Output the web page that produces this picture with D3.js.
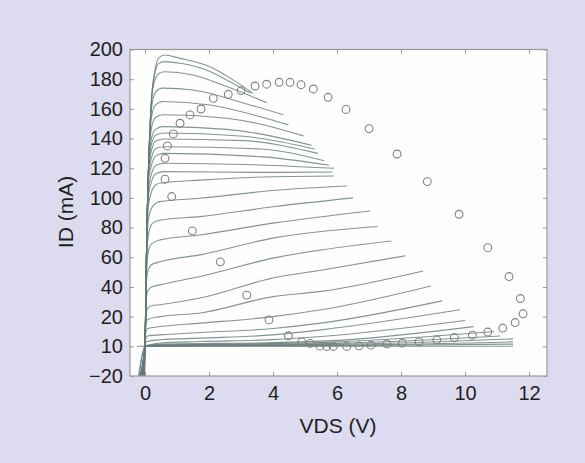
<!DOCTYPE html>
<html>
<head>
<meta charset="utf-8">
<script src="https://cdn.jsdelivr.net/npm/d3@7"></script>
<style>
  html, body { margin: 0; padding: 0; background: #dcdbef; }
  svg { display: block; }
  .tick text { font-family: "Liberation Sans", Arial, sans-serif; font-size: 20px; fill: #231f20; }
  .axis-label { font-family: "Liberation Sans", Arial, sans-serif; font-size: 21px; fill: #231f20; }
</style>
</head>
<body>
<div id="chart"></div>
<script>
// Output curves ID(VDS), one array of [VDS, ID] per gate step, top to bottom
const curve01 = [[-0.02, -25], [0, 0], [0.05, 69], [0.13, 134], [0.2, 166], [0.31, 186], [0.42, 194], [0.6, 196.3], [1.1, 194], [2.03, 188.4], [2.86, 178], [3.375, 170.5]]
const curve02 = [[-0.05, -25], [0, 0], [0.05, 69], [0.13, 134], [0.2, 166], [0.3, 183], [0.42, 190.5], [0.6, 191.8], [1.1, 190.7], [1.93, 186], [2.55, 179.5], [3.3, 170.5]]
const curve03 = [[-0.08, -25], [0, 0], [0.05, 69], [0.13, 134], [0.2, 165], [0.3, 179], [0.45, 184], [0.6, 185], [1.5, 182.8], [2.55, 175], [3.8, 164.2]]
const curve04 = [[-0.1, -25], [0, 0], [0.05, 69], [0.13, 134], [0.2, 160], [0.32, 171], [0.55, 174], [1.5, 172.7], [3.07, 164], [4.32, 156]]
const curve05 = [[-0.12, -25], [0, 0], [0.05, 69], [0.13, 132], [0.2, 154], [0.32, 162.5], [0.55, 165], [2.03, 162.6], [3.6, 154.7], [4.48, 149.2]]
const curve06 = [[-0.15, -25], [0, 0], [0.05, 69], [0.12, 128], [0.2, 147], [0.32, 154], [0.55, 156], [2.55, 153.7], [4.95, 141.8]]
const curve07 = [[-0.18, -25], [0, 0], [0.05, 69], [0.12, 126], [0.2, 140], [0.32, 146], [0.55, 148], [2.55, 146.2], [5.2, 135.5]]
const curve08 = [[-0.2, -25], [0, 0], [0.05, 69], [0.11, 120], [0.2, 136], [0.35, 142.5], [0.6, 143.7], [3.07, 141.5], [5.3, 133]]
const curve09 = [[-0.22, -25], [0, 0], [0.05, 69], [0.11, 118], [0.2, 132], [0.35, 138.5], [0.6, 139.7], [3.07, 138.6], [5.4, 130]]
const curve10 = [[-0.25, -25], [0, 0], [0.05, 68], [0.1, 112], [0.2, 127], [0.35, 133.5], [0.6, 134.5], [3.6, 133], [5.6, 125]]
const curve11 = [[-0.02, -25], [0, 0], [0.05, 67], [0.1, 110], [0.2, 122], [0.35, 128.5], [0.6, 130], [3.6, 127.8], [5.75, 122]]
const curve12 = [[-0.05, -25], [0, 0], [0.05, 66], [0.1, 105], [0.2, 116], [0.35, 122], [0.6, 123.4], [3.6, 122.2], [5.9, 120]]
const curve13 = [[-0.08, -25], [0, 0], [0.05, 65], [0.1, 100], [0.2, 111], [0.35, 116.5], [0.6, 117.7], [3.6, 117.2], [5.85, 117.5]]
const curve14 = [[-0.1, -25], [0, 0], [0.05, 63], [0.1, 94], [0.2, 104], [0.35, 109], [0.5, 110], [1.72, 112], [4, 114.3], [5.9, 114.8]]
const curve15 = [[-0.12, -25], [0, 0], [0.04, 55], [0.1, 85], [0.2, 93], [0.35, 96.5], [0.47, 97.5], [1.72, 99.8], [4, 105], [6.3, 108]]
const curve16 = [[-0.15, -25], [0, 0], [0.04, 50], [0.09, 73], [0.2, 82], [0.35, 84.3], [0.47, 85], [1.72, 87.4], [4, 94], [6.5, 100]]
const curve17 = [[-0.18, -25], [0, 0], [0.04, 45], [0.09, 62], [0.2, 69], [0.47, 71.7], [1.72, 75], [4, 83], [7.03, 91.2]]
const curve18 = [[-0.2, -25], [0, 0], [0.03, 38], [0.08, 50], [0.2, 55], [0.47, 57], [1.72, 61.6], [4, 72.9], [7.28, 80.7]]
const curve19 = [[-0.22, -25], [0, 0], [0.03, 30], [0.08, 37], [0.2, 40], [0.47, 41.4], [1.72, 47], [4, 59.4], [7.7, 71]]
const curve20 = [[-0.25, -25], [0, 0], [0.02, 20], [0.08, 25.5], [0.2, 27.3], [0.47, 28], [1.72, 32.5], [4, 46], [5.5, 51.3], [8.13, 61]]
const curve21 = [[-0.03, -25], [0, 0], [0.02, 14], [0.08, 18], [0.47, 20], [1.72, 22.4], [4, 33.5], [5.5, 37], [8.69, 50.8]]
const curve22 = [[-0.07, -25], [0, 0], [0.02, 9], [0.08, 12], [0.47, 13.3], [1.72, 15.6], [4, 20], [5.5, 24.6], [8.94, 40.7]]
const curve23 = [[-0.11, -25], [0, 0], [0.02, 5], [0.08, 7], [0.47, 7.7], [1.72, 9.3], [4, 12], [5.5, 15.6], [9.28, 30.6]]
const curve24 = [[-0.16, -25], [0, 0], [0.02, 3], [0.47, 4.4], [1.72, 5.5], [4, 7.7], [5.5, 11.1], [9.84, 24.6]]
const curve25 = [[-0.21, -25], [0, 0], [0.47, 2.2], [1.72, 3.2], [4, 4.5], [5.5, 6.6], [10, 17.4]]
const curve26 = [[-0.24, -25], [0, 0], [0.47, 1.5], [4, 2.5], [6, 4], [10.26, 13.3]]
const curve27 = [[0, 0], [0.47, 1], [4, 1.8], [6, 3], [10.9, 10]]
const curve28 = [[0, 0], [0.47, 0.7], [6, 2], [11.1, 7]]
const curve29 = [[0, 0], [0.47, 0.5], [6, 1.3], [11.5, 5]]
const curve30 = [[0, 0], [0.47, 0.3], [6, 0.8], [11.5, 3]]
const curve31 = [[0, 0], [0.47, 0.1], [6, 0.4], [11.5, 1.5]]
const curve32 = [[-0.25, 0], [4.6, 0], [11.5, 0]]

const curves = [
  curve01, curve02, curve03, curve04, curve05, curve06, curve07, curve08,
  curve09, curve10, curve11, curve12, curve13, curve14, curve15, curve16,
  curve17, curve18, curve19, curve20, curve21, curve22, curve23, curve24,
  curve25, curve26, curve27, curve28, curve29, curve30, curve31, curve32
]

// Load line points (circles), [VDS, ID]
const loadLine = [
  [0.625, 126.7], [0.625, 112.6], [0.834, 100.9], [1.478, 77.8], [2.353, 56.9],
  [3.178, 34.5], [3.875, 17.8], [4.478, 7.1], [4.897, 3.0], [5.156, 2.0],
  [5.469, 0.1], [5.678, -0.1], [5.884, -0.1], [6.303, -0.1], [6.688, 0.3],
  [7.063, 0.8], [7.553, 1.7], [8.04, 2.2], [8.56, 3.0], [9.115, 4.4],
  [9.666, 5.9], [10.228, 7.5], [10.71, 9.6], [11.178, 12.3], [11.563, 16.0],
  [11.813, 21.9], [11.728, 32.2], [11.375, 47.0], [10.71, 66.5], [9.813, 89.0],
  [8.82, 111.0], [7.875, 129.6], [7.0, 146.7], [6.28, 159.6], [5.72, 167.8],
  [5.26, 173.4], [4.875, 176.3], [4.53, 177.9], [4.19, 177.9], [3.80, 176.6],
  [3.438, 175.4], [3.0, 172.3], [2.60, 169.8], [2.134, 167.1], [1.75, 159.9],
  [1.406, 155.9], [1.094, 150.3], [0.884, 143.1], [0.697, 135.0]
]

// Axis ticks and the labels printed on them
const xTicks = [0, 2, 4, 6, 8, 10, 12]
const xTickLabels = ["0", "2", "4", "6", "8", "10", "12"]
const yTicks = [-20, 0, 20, 40, 60, 80, 100, 120, 140, 160, 180, 200]
const yTickLabels = ["\u221220", "10", "20", "40", "60", "80", "100", "120", "140", "160", "180", "200"]

const dimensions = {
  width: 585,
  height: 463,
  margin: { top: 49.5, right: 38, bottom: 87, left: 130 },
}
dimensions.boundedWidth = dimensions.width - dimensions.margin.left - dimensions.margin.right
dimensions.boundedHeight = dimensions.height - dimensions.margin.top - dimensions.margin.bottom

const xScale = d3.scaleLinear()
  .domain([-0.47, 12.56])
  .range([0, dimensions.boundedWidth])
const yScale = d3.scaleLinear()
  .domain([-20, 200])
  .range([dimensions.boundedHeight, 0])

const svg = d3.select("#chart").append("svg")
  .attr("width", dimensions.width)
  .attr("height", dimensions.height)

svg.append("rect")
  .attr("width", dimensions.width)
  .attr("height", dimensions.height)
  .attr("fill", "#dcdbef")

const bounds = svg.append("g")
  .attr("transform", `translate(${dimensions.margin.left}, ${dimensions.margin.top})`)

bounds.append("rect")
  .attr("width", dimensions.boundedWidth)
  .attr("height", dimensions.boundedHeight)
  .attr("fill", "#fefefe")

bounds.append("clipPath")
  .attr("id", "plot-clip")
  .append("rect")
  .attr("width", dimensions.boundedWidth)
  .attr("height", dimensions.boundedHeight)

const plot = bounds.append("g").attr("clip-path", "url(#plot-clip)")

// Curves
const lineGenerator = d3.line()
  .x(d => xScale(d[0]))
  .y(d => yScale(d[1]))
  .curve(d3.curveMonotoneX)

plot.selectAll(".curve")
  .data(curves)
  .join("path")
  .attr("class", "curve")
  .attr("d", lineGenerator)
  .attr("fill", "none")
  .attr("stroke", "#64797a")
  .attr("stroke-opacity", 0.8)
  .attr("stroke-width", 1.1)

// Load line circles
plot.selectAll(".load")
  .data(loadLine)
  .join("circle")
  .attr("class", "load")
  .attr("cx", d => xScale(d[0]))
  .attr("cy", d => yScale(d[1]))
  .attr("r", 3.9)
  .attr("fill", "none")
  .attr("stroke", "#808080")
  .attr("stroke-width", 1.1)

// Axes, ticks pointing inward
const frameColor = "#9a9a9a"
const xAxisBottom = d3.axisBottom(xScale)
  .tickValues(xTicks)
  .tickFormat((d, i) => xTickLabels[i])
  .tickSize(-4)
  .tickPadding(10)
const xAxisTop = d3.axisTop(xScale).tickValues(xTicks).tickFormat("").tickSize(-4)
const yAxisLeft = d3.axisLeft(yScale)
  .tickValues(yTicks)
  .tickFormat((d, i) => yTickLabels[i])
  .tickSize(-4)
  .tickPadding(7)
const yAxisRight = d3.axisRight(yScale).tickValues(yTicks).tickFormat("").tickSize(-4)

const axes = [
  bounds.append("g").attr("transform", `translate(0, ${dimensions.boundedHeight})`).call(xAxisBottom),
  bounds.append("g").call(xAxisTop),
  bounds.append("g").call(yAxisLeft),
  bounds.append("g").attr("transform", `translate(${dimensions.boundedWidth}, 0)`).call(yAxisRight),
]
axes.forEach(g => {
  g.select(".domain").remove()
  g.selectAll(".tick line").attr("stroke", frameColor)
  g.selectAll(".tick text").attr("fill", "#231f20").style("font-size", "20px")
})

bounds.append("rect")
  .attr("width", dimensions.boundedWidth)
  .attr("height", dimensions.boundedHeight)
  .attr("fill", "none")
  .attr("stroke", frameColor)
  .attr("stroke-width", 1.2)

// Axis titles
svg.append("text")
  .attr("class", "axis-label")
  .attr("x", 338)
  .attr("y", 433)
  .attr("text-anchor", "middle")
  .text("VDS (V)")

svg.append("text")
  .attr("class", "axis-label")
  .attr("transform", "translate(73, 212) rotate(-90)")
  .attr("text-anchor", "middle")
  .text("ID (mA)")
</script>
</body>
</html>
